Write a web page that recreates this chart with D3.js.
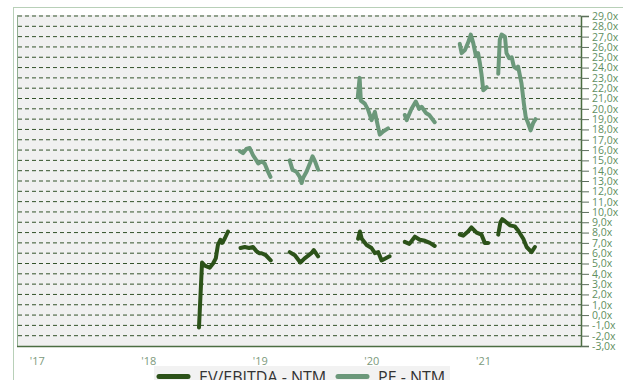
<!DOCTYPE html>
<html>
<head>
<meta charset="utf-8">
<script src="https://cdn.jsdelivr.net/npm/d3@7/dist/d3.min.js"></script>
<style>
  html, body { margin: 0; padding: 0; background: #ffffff; overflow: hidden; }
  svg { display: block; }
</style>
</head>
<body>
<svg id="chart" width="623" height="380"></svg>
<script>
// EV/EBITDA (NTM) multiple; null marks a break in the series
const evDates = [
  "2018-06-16","2018-06-26","2018-07-05","2018-07-21","2018-08-01","2018-08-10","2018-08-17","2018-08-25","2018-08-31","2018-09-08","2018-09-19",
  "2018-10-10",
  "2018-10-30","2018-11-13","2018-11-27","2018-12-10","2018-12-21","2018-12-30","2019-01-07","2019-01-21","2019-02-06",
  "2019-03-10",
  "2019-04-09","2019-04-26","2019-05-14","2019-05-28","2019-06-19","2019-06-27","2019-07-11",
  "2019-09-15",
  "2019-11-19","2019-11-25","2019-12-01","2019-12-17","2020-01-02","2020-01-13","2020-01-24","2020-02-04","2020-03-01",
  "2020-03-25",
  "2020-04-20","2020-05-05","2020-05-23","2020-06-08","2020-06-25","2020-07-11","2020-07-27",
  "2020-09-10",
  "2020-10-17","2020-10-28","2020-11-13","2020-11-24","2020-12-11","2020-12-27","2021-01-07","2021-01-18",
  "2021-02-05",
  "2021-02-20","2021-02-27","2021-03-05","2021-03-14","2021-03-30","2021-04-15","2021-04-26","2021-05-13","2021-05-24","2021-06-09","2021-06-20"
];
const evValues = [
  -1.2, 5.1, 4.8, 4.6, 5.0, 5.5, 6.8, 7.3, 7.0, 7.4, 8.1,
  null,
  6.5, 6.6, 6.5, 6.6, 6.2, 6.0, 6.0, 5.8, 5.3,
  null,
  6.1, 5.8, 5.1, 5.5, 6.0, 6.3, 5.7,
  null,
  7.4, 8.1, 7.4, 6.8, 6.5, 6.0, 6.1, 5.3, 5.7,
  null,
  7.1, 6.9, 7.6, 7.3, 7.2, 7.0, 6.7,
  null,
  7.8, 7.7, 8.1, 8.5, 8.0, 7.8, 7.0, 7.0,
  null,
  7.8, 9.0, 9.3, 9.1, 8.7, 8.6, 8.2, 7.4, 6.6, 6.1, 6.6
];

// P/E (NTM) multiple; null marks a break in the series
const peDates = [
  "2018-10-28","2018-11-07","2018-11-18","2018-11-29","2018-12-10","2018-12-21","2018-12-27","2019-01-07","2019-01-17","2019-01-28","2019-02-05",
  "2019-03-10",
  "2019-04-09","2019-04-18","2019-05-01","2019-05-12","2019-05-18","2019-05-23","2019-06-03","2019-06-14","2019-06-23","2019-07-01","2019-07-11",
  "2019-09-15",
  "2019-11-18","2019-11-24","2019-11-28","2019-12-11","2019-12-22","2020-01-02","2020-01-13","2020-01-20","2020-01-29","2020-02-09","2020-02-25",
  "2020-03-25",
  "2020-04-20","2020-04-26","2020-05-12","2020-05-26","2020-06-06","2020-06-14","2020-06-28","2020-07-09","2020-07-27",
  "2020-09-10",
  "2020-10-17","2020-10-23","2020-11-03","2020-11-13","2020-11-22","2020-11-30","2020-12-09","2020-12-16","2020-12-22","2020-12-27","2021-01-02","2021-01-13",
  "2021-02-05",
  "2021-02-20","2021-02-25","2021-03-03","2021-03-14","2021-03-19","2021-03-28","2021-04-05","2021-04-12","2021-04-21","2021-04-26","2021-05-07","2021-05-15","2021-05-21","2021-05-29","2021-06-06","2021-06-14","2021-06-22"
];
const peValues = [
  15.9, 15.7, 16.1, 16.2, 15.5, 15.0, 14.7, 14.9, 14.7, 13.9, 13.4,
  null,
  15.0, 14.1, 13.9, 13.4, 12.8, 13.3, 13.9, 14.7, 15.4, 14.9, 14.1,
  null,
  21.1, 23.0, 20.8, 20.5, 19.9, 18.9, 19.7, 18.7, 17.5, 17.8, 18.1,
  null,
  19.4, 18.9, 20.0, 20.7, 20.0, 20.2, 19.6, 19.4, 18.7,
  null,
  26.3, 25.4, 25.7, 26.4, 27.2, 26.4, 25.1, 25.4, 24.4, 23.4, 21.8, 22.1,
  null,
  23.4, 26.7, 27.2, 27.0, 25.4, 24.9, 25.0, 24.1, 23.9, 24.1, 22.5, 20.5, 19.2, 18.6, 17.9, 18.6, 19.0
];

const yTicks = d3.range(-3, 30, 1);
const xTickYears = ["2017-01-01","2018-01-01","2019-01-01","2020-01-01","2021-01-01"];
const seriesNames = ["EV/EBITDA - NTM", "PE - NTM"];
const seriesColors = ["#2c5219", "#6b987a"];

const parse = d3.timeParse("%Y-%m-%d");
const svg = d3.select("#chart");

const plot = { left: 17, right: 581, top: 16, bottom: 346 };

const x = d3.scaleTime()
  .domain([parse("2016-10-28"), parse("2021-11-18")])
  .range([plot.left, plot.right]);
const y = d3.scaleLinear()
  .domain([-3, 29])
  .range([plot.bottom, plot.top]);

// outer frame
svg.append("line").attr("x1", 13.5).attr("x2", 13.5).attr("y1", 7).attr("y2", 380)
  .attr("stroke", "#b8d0b8").attr("stroke-width", 1);
svg.append("line").attr("x1", 13).attr("x2", 623).attr("y1", 7.5).attr("y2", 7.5)
  .attr("stroke", "#b8d0b8").attr("stroke-width", 1);

// plot background
svg.append("rect")
  .attr("x", plot.left).attr("y", plot.top - 1)
  .attr("width", plot.right - plot.left).attr("height", plot.bottom - plot.top + 1)
  .attr("fill", "#f0f0f0");
svg.append("line").attr("x1", plot.left + 0.5).attr("x2", plot.left + 0.5)
  .attr("y1", plot.top - 1).attr("y2", plot.bottom)
  .attr("stroke", "#8fae8f").attr("stroke-width", 1);

// horizontal dashed gridlines
svg.append("g")
  .selectAll("line")
  .data(yTicks.filter(v => v > -3))
  .join("line")
  .attr("x1", plot.left + 1).attr("x2", plot.right)
  .attr("y1", d => y(d)).attr("y2", d => y(d))
  .attr("stroke", "#33522a")
  .attr("stroke-width", 1)
  .attr("stroke-dasharray", "4,3");

// bottom border
svg.append("line").attr("x1", plot.left).attr("x2", plot.right)
  .attr("y1", plot.bottom + 0.5).attr("y2", plot.bottom + 0.5)
  .attr("stroke", "#4b6e42").attr("stroke-width", 1.5);

// right value axis
const yAxis = svg.append("g")
  .attr("transform", `translate(${plot.right},0)`)
  .call(d3.axisRight(y).tickValues(yTicks).tickSize(8).tickPadding(3)
    .tickFormat(d => d3.format(".1f")(d).replace(".", ",").replace("−", "-") + "x"));
yAxis.select(".domain").attr("stroke", "#4b6e42").attr("stroke-width", 1.5);
yAxis.selectAll(".tick line").attr("stroke", "#5d6f5d");
yAxis.selectAll(".tick text")
  .attr("fill", "#5f8f5f")
  .style("font-family", "'Open Sans', sans-serif")
  .style("font-size", "10.5px");

// bottom time axis labels
const xAxis = svg.append("g")
  .attr("transform", `translate(0,${plot.bottom + 1})`)
  .call(d3.axisBottom(x).tickValues(xTickYears.map(parse)).tickSize(0).tickPadding(10)
    .tickFormat(d3.timeFormat("'%y")));
xAxis.select(".domain").remove();
xAxis.selectAll(".tick text")
  .attr("fill", "#7c9a7c")
  .style("font-family", "'Open Sans', sans-serif")
  .style("font-size", "11px");

// series lines
const line = d3.line()
  .defined(d => d.v !== null)
  .x(d => x(d.t))
  .y(d => y(d.v));

const evData = evDates.map((d, i) => ({ t: parse(d), v: evValues[i] }));
const peData = peDates.map((d, i) => ({ t: parse(d), v: peValues[i] }));

svg.append("path").datum(peData)
  .attr("d", line)
  .attr("fill", "none")
  .attr("stroke", seriesColors[1])
  .attr("stroke-width", 4)
  .attr("stroke-linejoin", "round")
  .attr("stroke-linecap", "round");

svg.append("path").datum(evData)
  .attr("d", line)
  .attr("fill", "none")
  .attr("stroke", seriesColors[0])
  .attr("stroke-width", 4)
  .attr("stroke-linejoin", "round")
  .attr("stroke-linecap", "round");

// legend
const legend = svg.append("g");
legend.append("rect")
  .attr("x", 154).attr("y", 366).attr("width", 296).attr("height", 20)
  .attr("fill", "#f2f2f2");
const legendItems = [
  { name: seriesNames[0], color: seriesColors[0], x0: 157, tx: 199 },
  { name: seriesNames[1], color: seriesColors[1], x0: 336, tx: 378 }
];
legendItems.forEach(it => {
  legend.append("line")
    .attr("x1", it.x0 + 2).attr("x2", it.x0 + 31)
    .attr("y1", 376.5).attr("y2", 376.5)
    .attr("stroke", it.color).attr("stroke-width", 5).attr("stroke-linecap", "round");
  legend.append("text")
    .attr("x", it.tx).attr("y", 383)
    .attr("fill", "#333333")
    .style("font-family", "'Open Sans', sans-serif")
    .style("font-size", "16px")
    .text(it.name);
});
</script>
</body>
</html>
